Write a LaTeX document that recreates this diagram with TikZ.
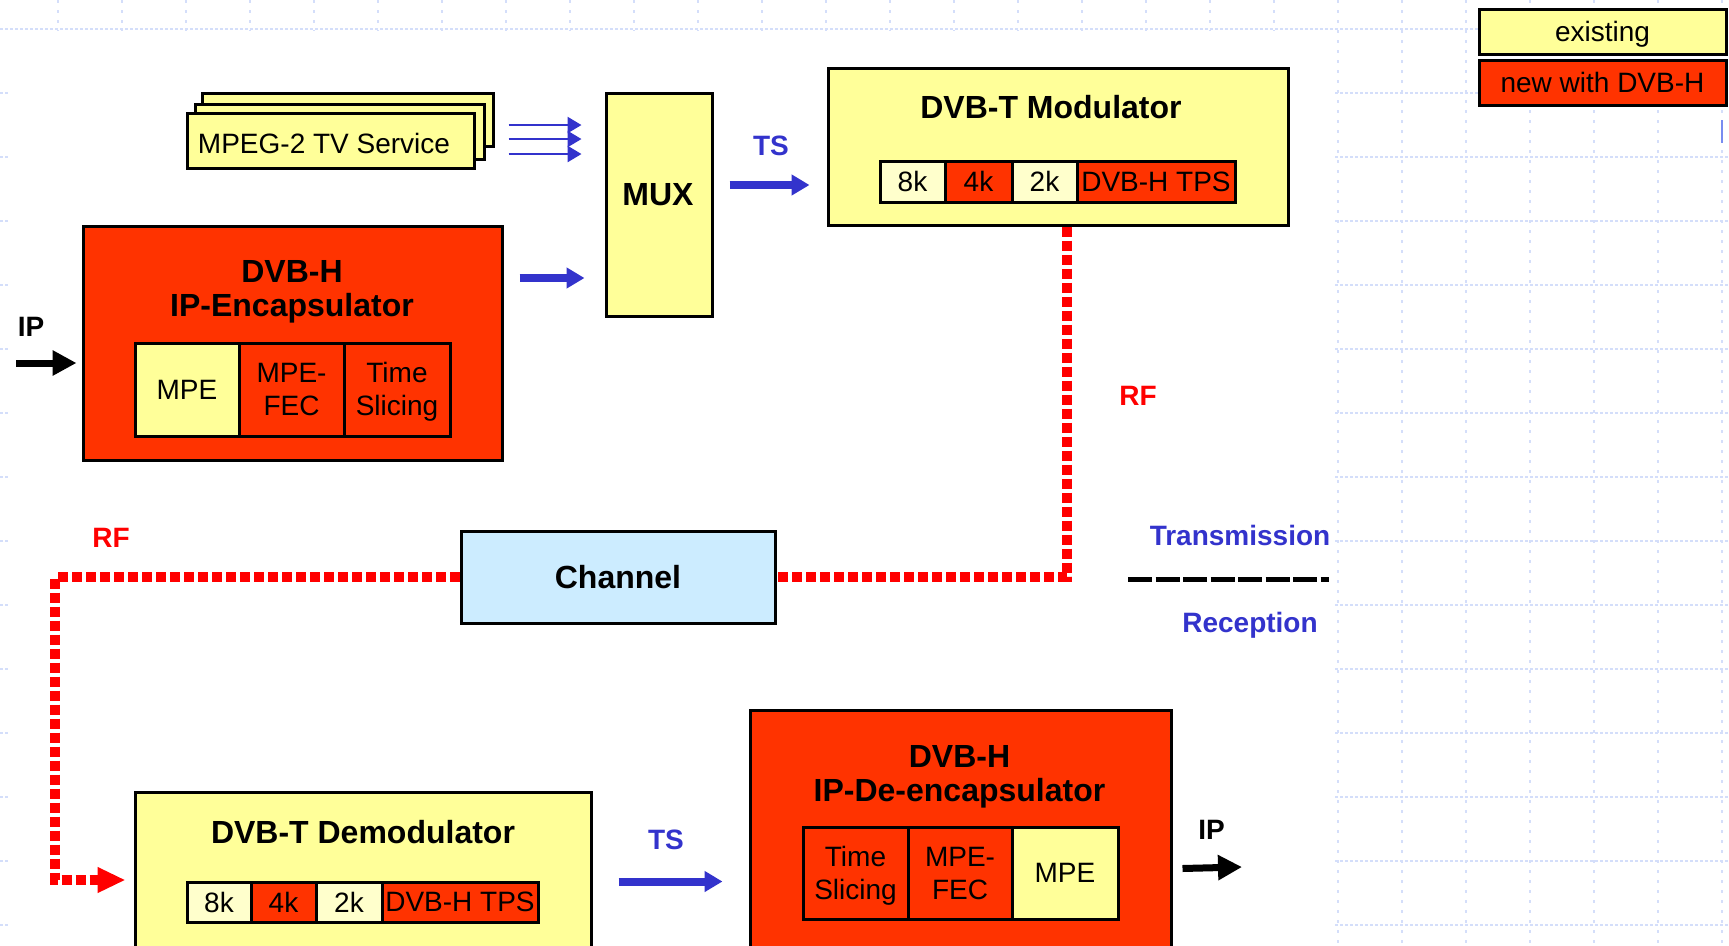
\documentclass[tikz,border=0pt]{standalone}
\usepackage{fontspec}
\setmainfont{Liberation Sans}
\usetikzlibrary{arrows.meta,calc}
\definecolor{cyel}{RGB}{255,255,153}
\definecolor{cpale}{RGB}{255,255,204}
\definecolor{cred}{RGB}{255,51,0}
\definecolor{cchan}{RGB}{204,236,255}
\definecolor{cblue}{RGB}{51,51,204}
\definecolor{crf}{RGB}{255,0,0}
\definecolor{cgrid}{RGB}{212,222,250}
\definecolor{cmark}{RGB}{120,140,240}
\begin{document}
\begin{tikzpicture}[x=1pt,y=-1pt,
  box/.style={draw=black,line width=3pt,inner sep=0pt},
  ybox/.style={box,fill=cyel},
  rbox/.style={box,fill=cred},
  ttl/.style={font=\fontsize{32}{34}\selectfont\bfseries,align=center,inner sep=0pt},
  txt/.style={font=\fontsize{28}{33}\selectfont,align=center,inner sep=0pt},
  cell/.style={box,txt},
  lbl/.style={font=\fontsize{28}{30}\selectfont\bfseries,inner sep=0pt},
  tsarrow/.style={cblue,line width=8pt,-{Triangle[length=18pt,width=20pt]}},
  thinarrow/.style={cblue,line width=2.5pt,-{Triangle[length=14pt,width=16pt]}},
  iparrow/.style={black,line width=7pt,-{Triangle[length=24pt,width=24pt]}},
  rfline/.style={crf,line width=9.5pt,dash pattern=on 10pt off 4pt},
  sepline/.style={black,line width=5pt,dash pattern=on 24pt off 3.5pt},
  gridv/.style={cgrid,line width=1.3pt,dash pattern=on 2.5pt off 7.5pt},
  gridh/.style={cgrid,line width=1.1pt,dash pattern=on 3pt off 2pt},
]
\clip (0,0) rectangle (1729,945);
\useasboundingbox (0,0) rectangle (1729,945);
\fill[white] (0,0) rectangle (1729,945);
% background grid
\foreach \gx in {58,122,...,1722} \draw[gridv] (\gx,0) -- (\gx,945);
\foreach \gy in {29,93,...,925} \draw[gridh] (0,\gy) -- (1729,\gy);
\fill[white] (10,31) rectangle (1334,945);
\draw[cmark,line width=2pt] (1722,120) -- (1722,143);

% legend
\node[ybox,minimum width=247pt,minimum height=45pt] (lexist) at (1602.5,31.5) {};
\node[txt] (lexistt) at (1602.5,34) {existing};
\node[rbox,txt,minimum width=247pt,minimum height=45pt] (lnew) at (1602.5,82.5) {new with DVB-H};

% MPEG-2 stack
\node[ybox,minimum width=291pt,minimum height=53pt] (mp3) at (347.5,119.5) {};
\node[ybox,minimum width=289pt,minimum height=55pt] (mp2) at (339.5,131.5) {};
\node[ybox,minimum width=287pt,minimum height=55pt] (mp1) at (330.5,140.5) {};
\node[txt] (mptxt) at (324,143) {MPEG-2 TV Service};

% MUX
\node[ybox,minimum width=106pt,minimum height=223pt] (mux) at (659,204.5) {};
\node[ttl] (muxt) at (658,195) {MUX};

% thin arrows
\draw[thinarrow] ($(mp3.east)+(14,5.5)$) -- ($(mux.west)+(-23,-79.5)$);
\draw[thinarrow] ($(mp3.east)+(14,19.5)$) -- ($(mux.west)+(-23,-65.5)$);
\draw[thinarrow] ($(mp3.east)+(14,34.5)$) -- ($(mux.west)+(-23,-50.5)$);

% DVB-T Modulator
\node[ybox,minimum width=460pt,minimum height=157pt] (mod) at (1058,146.5) {};
\node[ttl] (modt) at (1051,107) {DVB-T Modulator};
\node[cell,fill=cpale,minimum width=65pt,minimum height=41pt] (m8) at (912.5,181.5) {8k};
\node[cell,fill=cred,minimum width=67pt,minimum height=41pt] (m4) at (978.5,181.5) {4k};
\node[cell,fill=cpale,minimum width=65pt,minimum height=41pt] (m2) at (1044.5,181.5) {2k};
\node[cell,fill=cred,minimum width=158pt,minimum height=41pt] (mtps) at (1156,181.5) {DVB-H TPS};

% TS arrow top
\draw[tsarrow] ($(mux.east)+(16,-19.5)$) -- ($(mod.west)+(-17,38.5)$);
\node[lbl,text=cblue] (ts1) at (771,146) {TS};

% IP-Encapsulator
\node[rbox,minimum width=419pt,minimum height=234pt] (enc) at (292.5,343) {};
\node[ttl] (enct) at (292,292) {DVB-H\\IP-Encapsulator};
\node[cell,fill=cyel,minimum width=104pt,minimum height=93pt] (e1) at (187,389.5) {MPE};
\node[cell,fill=cred,minimum width=105pt,minimum height=93pt] (e2) at (291.5,389.5) {\raisebox{0pt}{MPE-}\\FEC};
\node[cell,fill=cred,minimum width=106pt,minimum height=93pt] (e3) at (397,389.5) {};
\node[txt] (e3t) at (397,392) {Time\\Slicing};
\draw[tsarrow] ($(enc.east)+(16,-65)$) -- ($(mux.west)+(-20,73.5)$);

% IP in
\coordinate (ipin) at (16,363);
\draw[iparrow] (ipin) -- ($(enc.west)+(-5,20)$);
\node[lbl] (ipl1) at (31,327) {IP};

% Channel
\node[box,fill=cchan,ttl,minimum width=314pt,minimum height=92pt] (chan) at (618,577) {Channel};

% RF top
\draw[rfline] ($(mod.south)+(9,0)$) |- (chan.east);
\node[lbl,text=crf] (rf1) at (1138,396) {RF};

% Demodulator
\node[ybox,minimum width=456pt,minimum height=200pt,anchor=north] (demod) at (363,791) {};
\node[ttl] (demodt) at (363,832.5) {DVB-T Demodulator};
\node[cell,fill=cpale,minimum width=64pt,minimum height=40pt] (d8) at (219,902) {8k};
\node[cell,fill=cred,minimum width=65pt,minimum height=40pt] (d4) at (283.5,902) {4k};
\node[cell,fill=cpale,minimum width=66pt,minimum height=40pt] (d2) at (349,902) {2k};
\node[cell,fill=cred,minimum width=156pt,minimum height=40pt] (dtps) at (460,902) {DVB-H TPS};

% RF left
\coordinate (rfc) at (55,880);
\draw[rfline,-{Triangle[length=28pt,width=24pt]}] (chan.west) -| (rfc) -- ($(demod.west |- rfc)+(-8,0)$);
\node[lbl,text=crf] (rf2) at (111,537.5) {RF};

% De-encapsulator
\node[rbox,minimum width=421pt,minimum height=250pt,anchor=north] (dec) at (960.5,709) {};
\node[ttl] (dect) at (959.5,777) {DVB-H\\IP-De-encapsulator};
\node[cell,fill=cred,minimum width=105pt,minimum height=92pt] (x1) at (855.5,873) {};
\node[txt] (x1t) at (855.5,876) {Time\\Slicing};
\node[cell,fill=cred,minimum width=104pt,minimum height=92pt] (x2) at (960,873) {MPE-\\FEC};
\node[cell,fill=cyel,minimum width=106pt,minimum height=92pt] (x3) at (1065,873) {MPE};

% TS arrow bottom
\draw[tsarrow] ($(demod.east)+(26,-11)$) -- ($(dec.west)+(-26,46)$);
\node[lbl,text=cblue] (ts2) at (666,840) {TS};

% IP out
\coordinate (ipout) at (1242,867);
\draw[iparrow] ($(dec.east)+(10,33)$) -- (ipout);
\node[lbl] (ipl2) at (1211.5,830) {IP};

% Transmission / Reception
\node[lbl,text=cblue] (trans) at (1240,535) {Transmission};
\node[lbl,text=cblue] (recp) at (1250,625) {Reception};
\coordinate (sepa) at (1128,579);
\coordinate (sepb) at (1329,579);
\draw[sepline] (sepa) -- (sepb);
\end{tikzpicture}
\end{document}
